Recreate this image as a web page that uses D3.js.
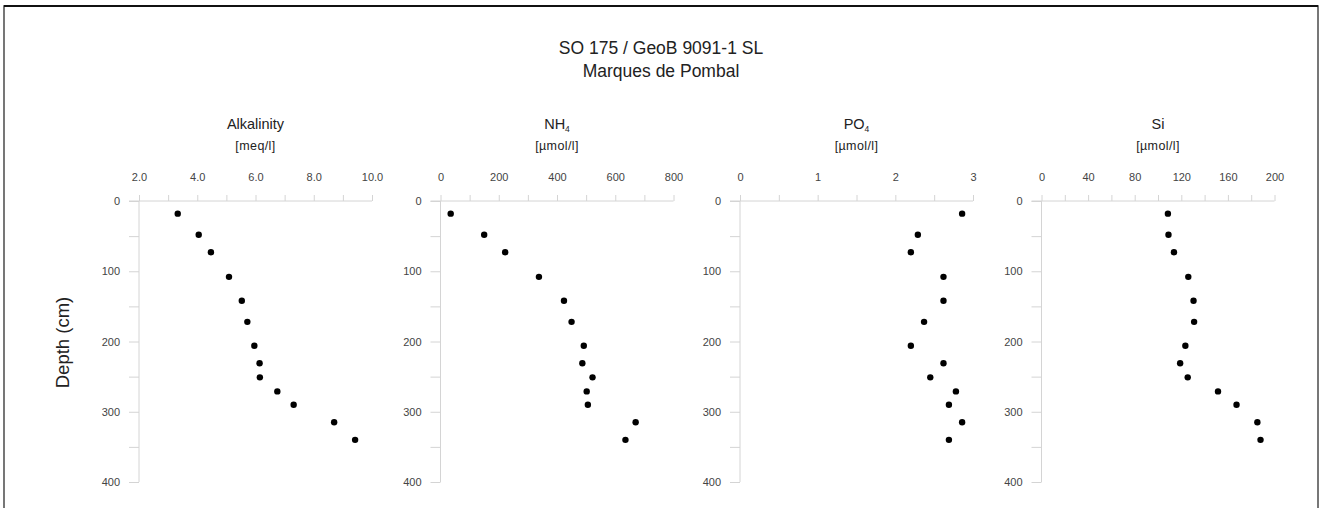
<!DOCTYPE html>
<html>
<head>
<meta charset="utf-8">
<script src="https://cdn.jsdelivr.net/npm/d3@7"></script>
<style>
  html, body { margin: 0; padding: 0; background: #fff; }
  svg { display: block; font-family: "Liberation Sans", Arial, sans-serif; }
</style>
</head>
<body>
<svg id="chart" width="1319" height="508"></svg>
<script>
// ---- data ----
const depths = [18, 48, 73, 108, 142, 172, 206, 231, 251, 271, 290, 315, 340];
const alkalinity = [3.33, 4.05, 4.47, 5.09, 5.53, 5.72, 5.96, 6.14, 6.15, 6.75, 7.31, 8.70, 9.42];
const nh4 = [35, 150, 222, 338, 424, 450, 492, 487, 522, 502, 506, 670, 635];
const po4 = [2.86, 2.29, 2.20, 2.62, 2.62, 2.37, 2.20, 2.62, 2.45, 2.78, 2.69, 2.86, 2.69];
const si = [108.5, 109, 113.7, 126, 130.5, 131, 123.5, 119, 125.5, 151.5, 167.4, 185.3, 188];
const depthTicks = [0, 100, 200, 300, 400];
const titleLines = ["SO 175 / GeoB 9091-1 SL", "Marques de Pombal"];
const yTitle = "Depth (cm)";

const panels = [
  { name: "Alkalinity", sub: "", unit: "[meq/l]", values: alkalinity, domain: [2, 10], major: [2, 4, 6, 8, 10], minor: [3, 5, 7, 9], fmt: d3.format(".1f") },
  { name: "NH", sub: "4", unit: "[µmol/l]", values: nh4, domain: [0, 800], major: [0, 200, 400, 600, 800], minor: [100, 300, 500, 700], fmt: d3.format("d") },
  { name: "PO", sub: "4", unit: "[µmol/l]", values: po4, domain: [0, 3], major: [0, 1, 2, 3], minor: [0.5, 1.5, 2.5], fmt: d3.format("d") },
  { name: "Si", sub: "", unit: "[µmol/l]", values: si, domain: [0, 200], major: [0, 40, 80, 120, 160, 200], minor: [20, 60, 100, 140, 180], fmt: d3.format("d") }
];

// ---- layout ----
const panelLeft = [139, 440.5, 740, 1041.5];
const panelWidth = 233;
const plotTop = 201, plotBottom = 482;
const axisColor = "#d4d4d4";
const tickTextColor = "#444";

const svg = d3.select("#chart");

// frame
svg.append("rect")
  .attr("x", 4).attr("y", 6).attr("width", 1314).attr("height", 520)
  .attr("fill", "none").attr("stroke", "#555").attr("stroke-width", 1.6);
svg.append("line").attr("x1", 4).attr("x2", 1318).attr("y1", 6).attr("y2", 6)
  .attr("stroke", "#111").attr("stroke-width", 2);

// title
svg.append("text").attr("x", 661).attr("y", 54).attr("text-anchor", "middle")
  .attr("font-size", 17.5).attr("fill", "#222").text(titleLines[0]);
svg.append("text").attr("x", 661).attr("y", 77).attr("text-anchor", "middle")
  .attr("font-size", 17.5).attr("fill", "#222").text(titleLines[1]);

// y title
svg.append("text")
  .attr("transform", `translate(69,${(plotTop + plotBottom) / 2 + 1}) rotate(-90)`)
  .attr("text-anchor", "middle").attr("font-size", 18.5).attr("fill", "#222")
  .text(yTitle);

const y = d3.scaleLinear().domain([0, 400]).range([plotTop, plotBottom]);
const yMinor = [50, 150, 250, 350];

panels.forEach((p, i) => {
  const x0 = panelLeft[i];
  const x = d3.scaleLinear().domain(p.domain).range([x0, x0 + panelWidth]);
  const g = svg.append("g");

  // top x axis
  const xAxis = d3.axisTop(x).tickValues(p.major).tickFormat(p.fmt).tickSize(6).tickPadding(14);
  const gx = g.append("g").attr("transform", `translate(0,${plotTop})`).call(xAxis);
  gx.select(".domain").attr("stroke", axisColor).attr("d", `M${x0 - 10},0H${x0 + panelWidth}`);
  gx.selectAll(".tick line").attr("stroke", axisColor);
  gx.selectAll(".tick text").attr("font-size", 11).attr("fill", tickTextColor)
    .attr("font-family", "Liberation Sans, Arial, sans-serif");
  const gxm = g.append("g").attr("transform", `translate(0,${plotTop})`)
    .call(d3.axisTop(x).tickValues(p.minor).tickFormat("").tickSize(6));
  gxm.select(".domain").remove();
  gxm.selectAll(".tick line").attr("stroke", axisColor);

  // left y axis
  const gy = g.append("g").attr("transform", `translate(${x0},0)`)
    .call(d3.axisLeft(y).tickValues(depthTicks).tickFormat(d3.format("d")).tickSize(10).tickPadding(9));
  gy.select(".domain").attr("stroke", axisColor).attr("d", `M0,${plotTop}V${plotBottom}`);
  gy.selectAll(".tick line").attr("stroke", axisColor);
  gy.selectAll(".tick text").attr("font-size", 11).attr("fill", tickTextColor)
    .attr("font-family", "Liberation Sans, Arial, sans-serif");
  const gym = g.append("g").attr("transform", `translate(${x0},0)`)
    .call(d3.axisLeft(y).tickValues(yMinor).tickFormat("").tickSize(10));
  gym.select(".domain").remove();
  gym.selectAll(".tick line").attr("stroke", axisColor);

  // panel title
  const cx = x0 + panelWidth / 2;
  const t = g.append("text").attr("x", cx).attr("y", 129).attr("text-anchor", "middle")
    .attr("font-size", 14.5).attr("fill", "#222");
  t.append("tspan").text(p.name);
  if (p.sub) t.append("tspan").attr("font-size", 8.5).attr("dy", 3).text(p.sub);
  g.append("text").attr("x", cx).attr("y", 150).attr("text-anchor", "middle")
    .attr("font-size", 12.5).attr("letter-spacing", 0.4).attr("fill", "#222").text(p.unit);

  // points
  g.selectAll("circle").data(p.values).join("circle")
    .attr("cx", d => x(d)).attr("cy", (d, j) => y(depths[j]))
    .attr("r", 3.2).attr("fill", "#000");
});
</script>
</body>
</html>
